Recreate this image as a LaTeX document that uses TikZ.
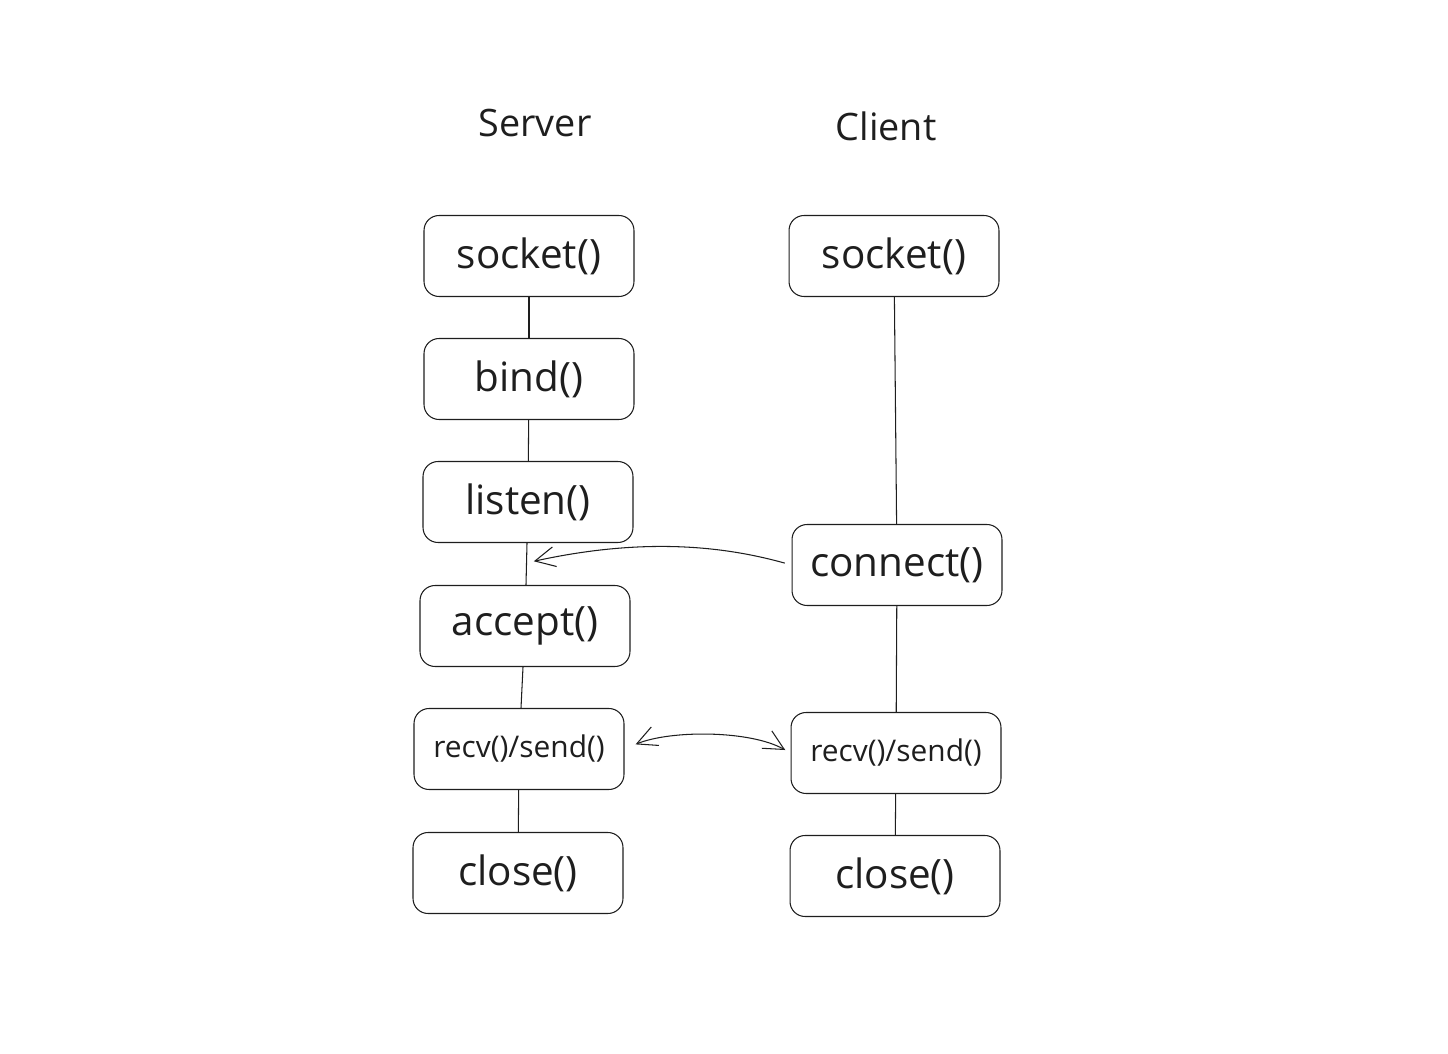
\documentclass[tikz,border=0pt]{standalone}
\usepackage{fontspec}
\setmainfont{Open Sans}
\usetikzlibrary{arrows.meta}
\definecolor{ink}{HTML}{1E1E1E}
\newcommand\BigLabel{\fontsize{23}{27}\selectfont}
\newcommand\SmallLabel{\fontsize{17}{20}\selectfont}

\begin{document}
\begin{tikzpicture}[x=0.02cm,y=-0.02cm,
  callbox/.style={draw=ink,text=ink,line width=0.6pt,rounded corners=3mm,
    minimum width=4.2cm,minimum height=1.62cm,font=\BigLabel},
  smallbox/.style={callbox,font=\SmallLabel},
  side/.style={text=ink,font=\fontsize{21.5}{25}\selectfont},
  link/.style={draw=ink,line width=0.6pt},
  barb/.style={link,{Straight Barb[length=4mm,width=4mm]}-}]
\useasboundingbox (0,0) rectangle (1448,1054);
\node[side] (srvtitle) at (535,123) {Server};
\node[side] (clititle) at (886,126) {Client};
% server side
\node[callbox] (srvsocket) at (529,256) {socket()};
\node[callbox] (srvbind) at (529,379) {bind()};
\node[callbox] (srvlisten) at (528,502) {listen()};
\node[callbox] (srvaccept) at (525,626) {accept()};
\node[smallbox] (srvrecv) at (519,749) {recv()/send()};
\node[callbox] (srvclose) at (518,873) {close()};
% client side
\node[callbox] (clisocket) at (894,256) {socket()};
\node[callbox] (cliconnect) at (897,565) {connect()};
\node[smallbox] (clirecv) at (896,753) {recv()/send()};
\node[callbox] (cliclose) at (895,876) {close()};
\coordinate (lsnmid) at (526,563);
\draw[link] (srvsocket) -- (srvbind);
\draw[link] (srvbind) -- (srvlisten);
\draw[link] (srvlisten) -- (srvaccept);
\draw[link] (srvaccept) -- (srvrecv);
\draw[link] (srvrecv) -- (srvclose);
\draw[link] (clisocket) -- (cliconnect);
\draw[link] (cliconnect) -- (clirecv);
\draw[link] (clirecv) -- (cliclose);
\draw[barb,shorten <=1.6mm,shorten >=1.4mm] (lsnmid)
    .. controls (640,538) and (720,545) .. (cliconnect.west);
\draw[link,{Straight Barb[length=4mm,width=4mm]}-{Straight Barb[length=4mm,width=4mm]},
    shorten <=2.4mm,shorten >=1.2mm] (srvrecv.east)
    .. controls (670,730) and (750,730) .. (clirecv.west);
\end{tikzpicture}
\end{document}
